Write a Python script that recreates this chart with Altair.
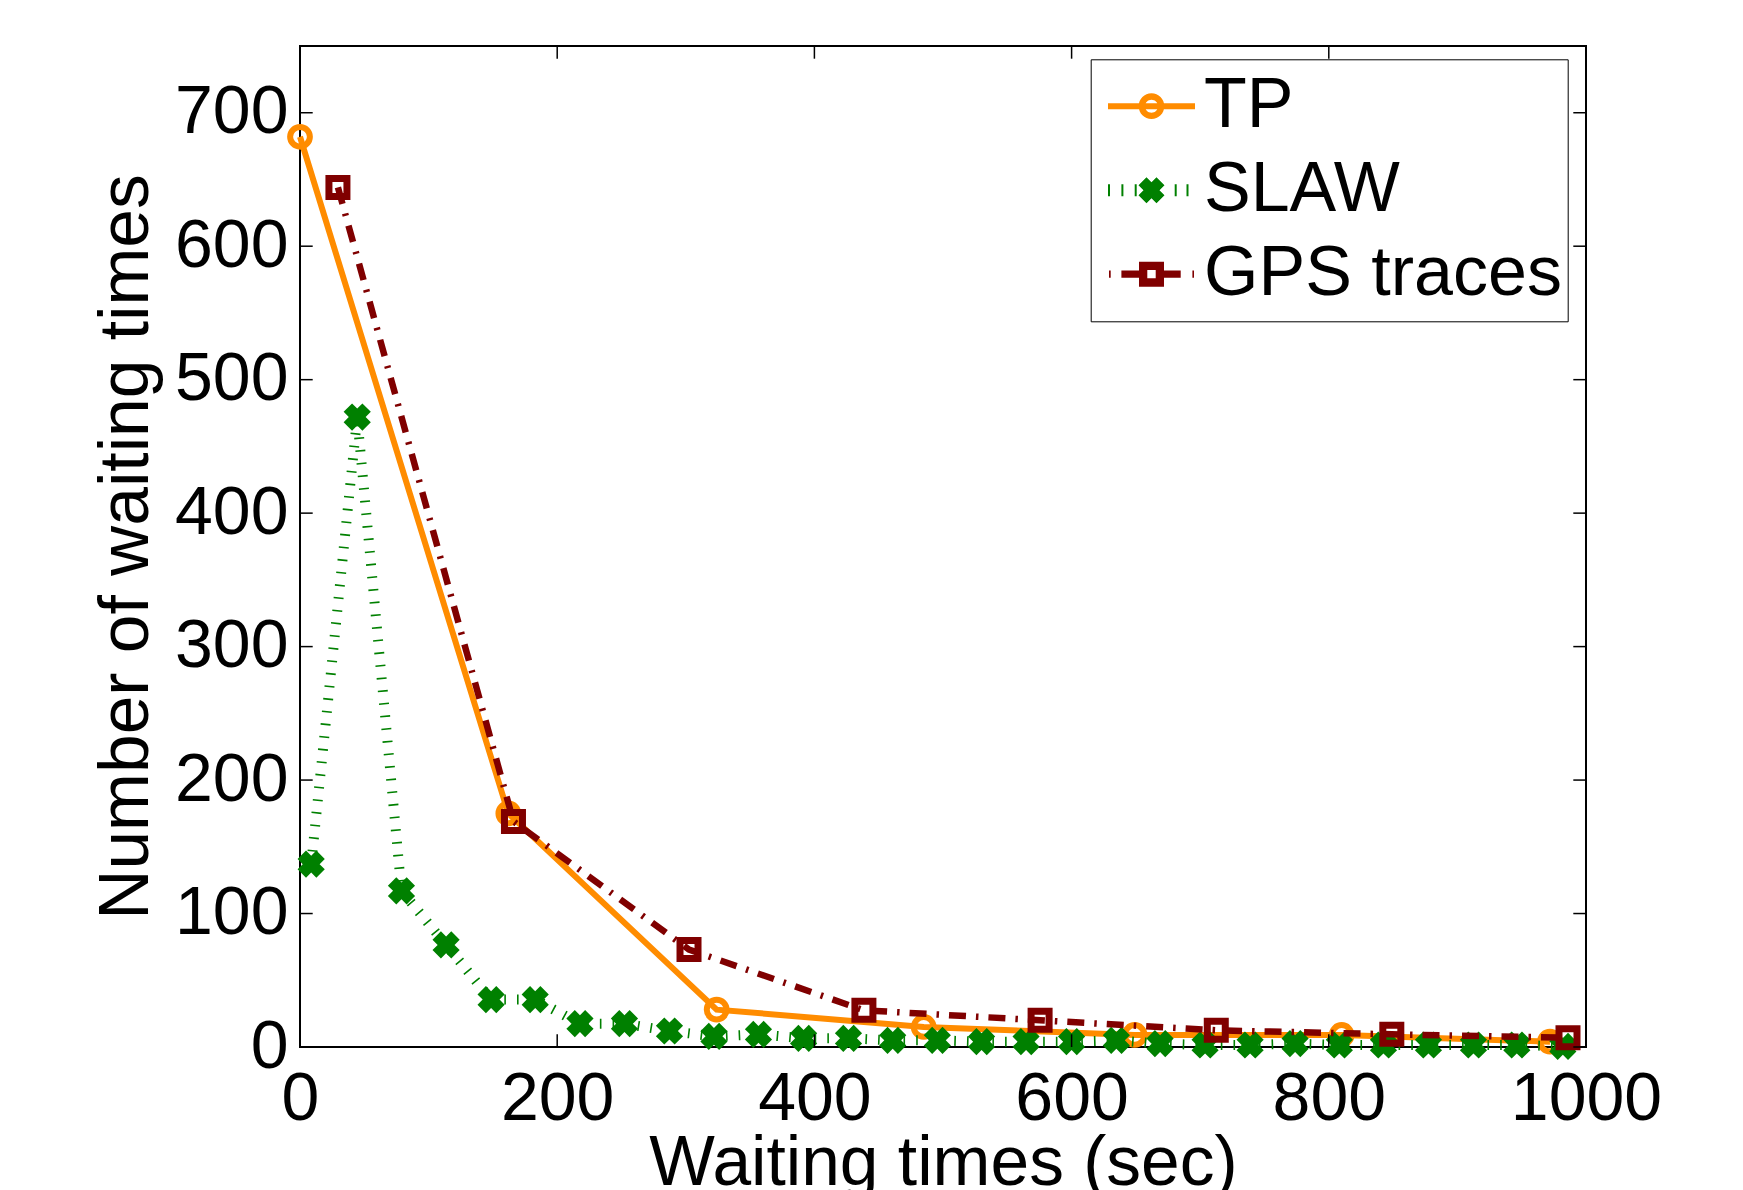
import altair as alt
import pandas as pd

# ---------------- data ----------------
series_names = ["TP", "SLAW", "GPS traces"]

tp_x = [0, 162, 324, 485, 649, 810, 972]
tp_y = [682, 175, 28, 15, 9, 9, 4]

slaw_x = [8.7, 44.5, 78.9, 113.6, 148.6, 182.9, 217.7, 252.3, 287.3, 321.9,
          356.5, 391.6, 426.5, 460.9, 495.6, 530.0, 564.6, 600.0, 634.8, 668.8,
          703.8, 738.8, 773.8, 808.2, 842.5, 877.5, 912.5, 946.2, 982.0]
slaw_y = [137, 472, 117, 76.5, 35.5, 35.5, 17.5, 17.5, 12, 8,
          9.5, 6.5, 6.5, 5, 5, 4, 4, 4, 5, 2.5,
          1.5, 1.5, 2.5, 1.5, 1.5, 1.5, 1.5, 1.5, 0.5]

gps_x = [29.5, 166, 302.5, 438.5, 575.5, 712.5, 849, 986]
gps_y = [644, 169, 73, 27.5, 20, 12.5, 9.5, 7]

x_ticks = [0, 200, 400, 600, 800, 1000]
y_ticks = [0, 100, 200, 300, 400, 500, 600, 700]

colors = ["#FF8C00", "#008000", "#800000"]

df = pd.concat([
    pd.DataFrame({"wt": tp_x, "n": tp_y, "series": "TP"}),
    pd.DataFrame({"wt": slaw_x, "n": slaw_y, "series": "SLAW"}),
    pd.DataFrame({"wt": gps_x, "n": gps_y, "series": "GPS traces"}),
], ignore_index=True)
xt_df = pd.DataFrame({"wt": x_ticks})
yt_df = pd.DataFrame({"n": y_ticks})
leg_df = pd.DataFrame({"series": series_names})

# ---------------- styling helpers (marker / legend glyph paths) ----------------
def f(v):
    return f"{v:.4f}"

def rect_cw(x0, x1, y0, y1):
    return f"M{f(x0)},{f(y0)}L{f(x1)},{f(y0)}L{f(x1)},{f(y1)}L{f(x0)},{f(y1)}Z"

def rect_ccw(x0, x1, y0, y1):
    return f"M{f(x0)},{f(y0)}L{f(x0)},{f(y1)}L{f(x1)},{f(y1)}L{f(x1)},{f(y0)}Z"

def circle(r, cw=True):
    s = 1 if cw else 0
    return (f"M{f(r)},0A{f(r)},{f(r)},0,1,{s},{f(-r)},0"
            f"A{f(r)},{f(r)},0,1,{s},{f(r)},0Z")

def xshape(s, a):
    pts = [(-s, -s + a), (-s + a, -s), (0, -a), (s - a, -s), (s, -s + a), (a, 0),
           (s, s - a), (s - a, s), (0, a), (-s + a, s), (-s, s - a), (-a, 0)]
    return "M" + "L".join(f"{f(px)},{f(py)}" for px, py in pts) + "Z"

X_PATH = xshape(1.0, 0.62)

# legend glyphs: symbol width 87 px -> unit = 43.5 px
U = 43.5
def u(px):
    return px / U

leg_tp = rect_cw(-1, 1, -u(3.0), u(3.0)) + circle(u(12.8)) + circle(u(6.5), cw=False)
leg_slaw = "".join(rect_cw(u(c - 1.0), u(c + 1.0), -u(6), u(6))
                   for c in [-42.5, -29.1, -15.8, 24.2, 36.0]) + xshape(u(13.0), u(8.0))
leg_gps = (rect_cw(u(-42.5), u(-40.8), -u(3.6), u(3.6))
           + rect_cw(u(-30.1), u(-12.5), -u(3.65), u(3.65))
           + rect_cw(u(-12.5), u(12.5), u(-12.5), u(12.5))
           + rect_ccw(u(-4.2), u(4.2), u(-4.2), u(4.2))
           + rect_cw(u(12.5), u(29.2), -u(3.65), u(3.65))
           + rect_cw(u(40.9), u(42.5), -u(3.6), u(3.6)))

# ---------------- chart ----------------
W, H = 1286, 1001
FONT = "Liberation Sans"
xs = alt.Scale(domain=[0, 1000], nice=False, zero=False)
ys = alt.Scale(domain=[0, 750], nice=False, zero=False)

x_axis = alt.Axis(values=x_ticks, format="d", labelPadding=18, labelFlush=False,
                  labelOverlap=False, title="Waiting times (sec)", titleY=137,
                  titleBaseline="alphabetic")
y_axis = alt.Axis(values=y_ticks, format="d", labelPadding=12, labelOverlap=False,
                  title="Number of waiting times", titleX=-153, titleY=H / 2,
                  titleBaseline="alphabetic", titleAlign="center")

X_ENC = alt.X("wt:Q", scale=xs, axis=x_axis)
Y_ENC = alt.Y("n:Q", scale=ys, axis=y_axis)

base = alt.Chart(df)

tp_line = base.transform_filter(alt.datum.series == "TP").mark_line(
    color=colors[0], strokeWidth=6, strokeJoin="miter").encode(x=X_ENC, y=Y_ENC)
tp_pts = base.transform_filter(alt.datum.series == "TP").mark_point(
    shape="circle", filled=False, color=colors[0], size=390, strokeWidth=6,
    opacity=1).encode(x=X_ENC, y=Y_ENC)

slaw_line = base.transform_filter(alt.datum.series == "SLAW").mark_line(
    color=colors[1], strokeWidth=10, strokeDash=[1.6, 11.1], strokeCap="butt").encode(x=X_ENC, y=Y_ENC)
slaw_pts = base.transform_filter(alt.datum.series == "SLAW").mark_point(
    shape=X_PATH, filled=True, color=colors[1], size=740, opacity=1,
    strokeWidth=0).encode(x=X_ENC, y=Y_ENC)

gps_line = base.transform_filter(alt.datum.series == "GPS traces").mark_line(
    color=colors[2], strokeWidth=6.5, strokeDash=[17, 10, 2.5, 10], strokeCap="butt").encode(x=X_ENC, y=Y_ENC)
gps_pts = base.transform_filter(alt.datum.series == "GPS traces").mark_point(
    shape="square", filled=False, color=colors[2], size=324, strokeWidth=7,
    opacity=1).encode(x=X_ENC, y=Y_ENC)

TL = 12.7
tick_style = dict(color="black", strokeWidth=1.5)
left_t = alt.Chart(yt_df).mark_rule(**tick_style).encode(
    y=Y_ENC, x=alt.value(0), x2=alt.value(TL))
right_t = alt.Chart(yt_df).mark_rule(**tick_style).encode(
    y=Y_ENC, x=alt.value(W), x2=alt.value(W - TL))
bot_t = alt.Chart(xt_df).mark_rule(**tick_style).encode(
    x=X_ENC, y=alt.value(H), y2=alt.value(H - TL))
top_t = alt.Chart(xt_df).mark_rule(**tick_style).encode(
    x=X_ENC, y=alt.value(0), y2=alt.value(TL))

legend = alt.Legend(
    title=None, orient="none", legendX=790.7, legendY=13.3,
    padding=5.2, rowPadding=0, clipHeight=83.3, symbolSize=7569, symbolOffset=12.1,
    labelOffset=9, labelFont=FONT, labelFontSize=70, labelColor="black",
    labelLimit=1000, symbolStrokeWidth=0, symbolOpacity=1,
    strokeColor="black", fillColor="white", cornerRadius=0,
)
leg_layer = alt.Chart(leg_df).mark_point(filled=True, opacity=0, size=10).encode(
    color=alt.Color("series:N", scale=alt.Scale(domain=series_names, range=colors),
                    legend=legend, sort=series_names),
    shape=alt.Shape("series:N", scale=alt.Scale(domain=series_names,
                                                range=[leg_tp, leg_slaw, leg_gps]),
                    legend=legend, sort=series_names),
)

chart = alt.layer(
    tp_line, tp_pts, slaw_line, slaw_pts, gps_line, gps_pts,
    left_t, right_t, bot_t, top_t, leg_layer,
).properties(
    width=W, height=H,
    padding={"left": 292, "top": 38, "right": 120, "bottom": 143},
    autosize=alt.AutoSizeParams(type="none"),
    background="white",
).configure_view(
    stroke="black", strokeWidth=2,
).configure_axis(
    grid=False, domain=False, ticks=False,
    labelFont=FONT, labelFontSize=68, labelColor="black",
    titleFont=FONT, titleFontSize=69.5, titleColor="black", titleFontWeight="normal",
)

chart.save("out.html", embed_options={"renderer": "svg", "actions": False})
